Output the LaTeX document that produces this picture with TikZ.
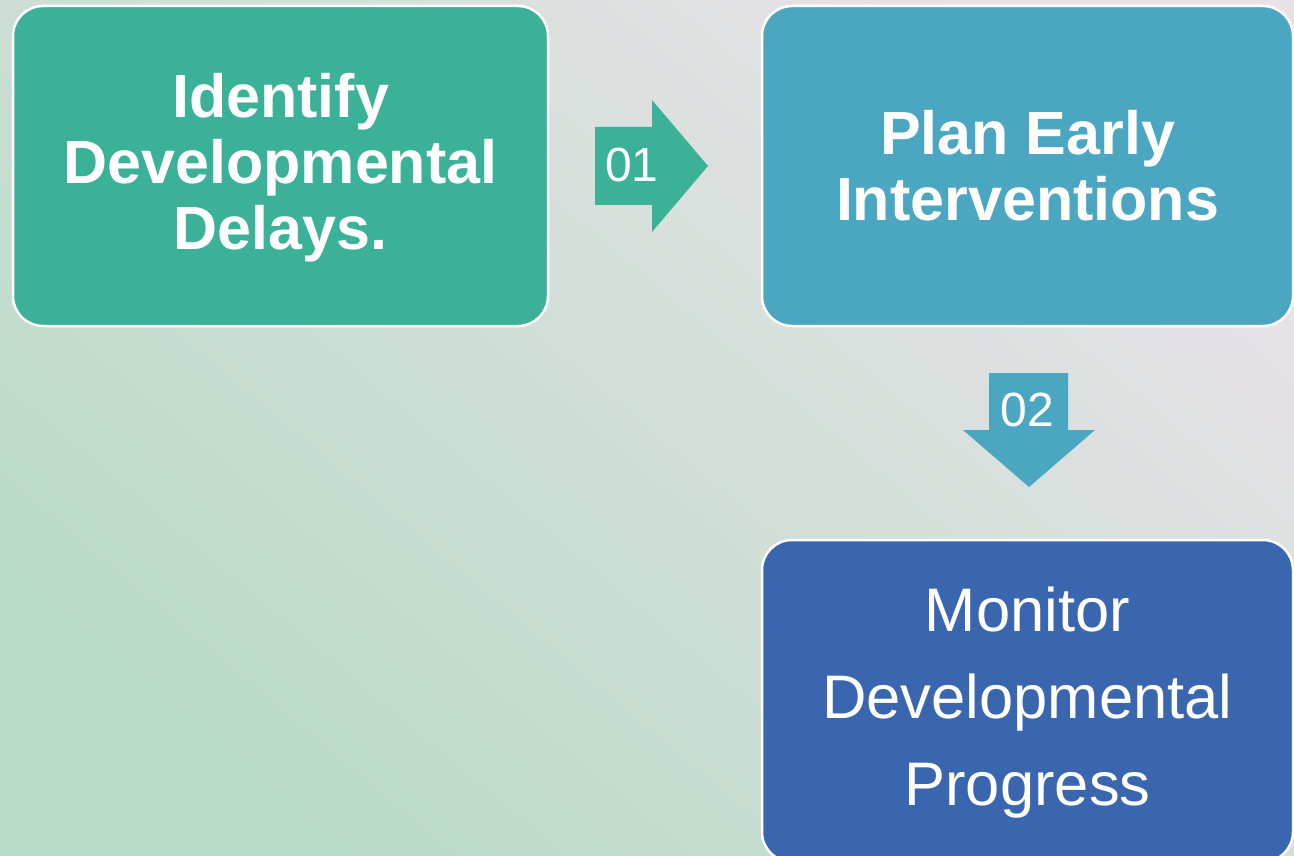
\documentclass[tikz,border=0pt]{standalone}
\usepackage{fontspec}
\setmainfont{Liberation Sans}
\definecolor{bgA}{HTML}{B8DBC7}
\definecolor{bgB}{HTML}{E8E2E7}
\definecolor{cgreen}{HTML}{3BB298}
\definecolor{cblue}{HTML}{4BA7C1}
\definecolor{cnavy}{HTML}{3A65AF}
\tikzset{
  stepbox/.style={draw=white, line width=2.5pt, rounded corners=30pt, align=center,
    text=white, inner sep=0pt, minimum height=320pt},
  boldtxt/.style={font=\bfseries\fontsize{61}{66}\selectfont},
  regtxt/.style={font=\fontsize{61.5}{87}\selectfont},
  numtxt/.style={text=white, font=\fontsize{48}{50}\selectfont, inner sep=0pt}
}
\begin{document}
\begin{tikzpicture}[x=1pt,y=-1pt]
\useasboundingbox (0,0) rectangle (1294,856);
\clip (0,0) rectangle (1294,856);
\shade[bottom color=bgA, top color=bgB, shading angle=-40] (0,0) rectangle (1294,856);
% boxes
\node[stepbox, fill=cgreen, minimum width=535pt] (b1) at (280.5,166) {};
\node[boldtxt, text=white, align=center] (t1) at (280.5,168) {Identify\\Developmental\\Delays.};
\node[stepbox, boldtxt, fill=cblue, minimum width=531pt] (b2) at (1027.5,166) {Plan Early\\Interventions};
\node[stepbox, fill=cnavy, minimum width=531pt, minimum height=322pt] (b3) at (1027.5,701) {};
\node[regtxt, text=white, align=center] (t3) at (1027.5,703) {Monitor\\Developmental\\Progress};
% arrow 01
\fill[cgreen] (595,127) -- (652,127) -- (652,100) -- (708,166) -- (652,232) -- (652,205) -- (595,205) -- cycle;
\node[numtxt] (n1) at (632,165) {01};
% arrow 02
\fill[cblue] (989,373) -- (1068,373) -- (1068,430) -- (1095,430) -- (1029,487) -- (963,430) -- (989,430) -- cycle;
\node[numtxt] (n2) at (1027,410) {02};
\end{tikzpicture}
\end{document}
